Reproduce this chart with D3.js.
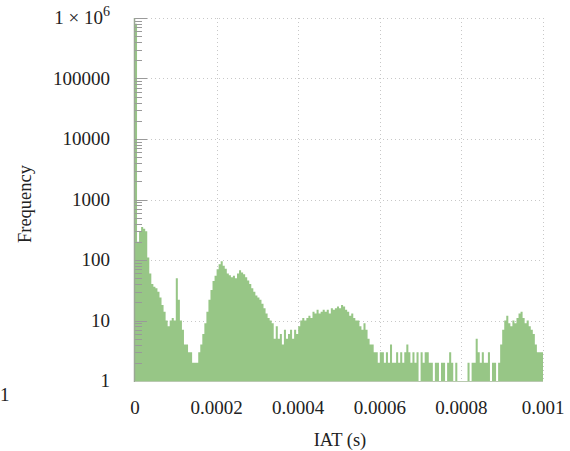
<!DOCTYPE html>
<html><head><meta charset="utf-8">
<script src="https://cdn.jsdelivr.net/npm/d3@7"></script>
<style>body{margin:0;background:#fff}text{font-family:"Liberation Serif","DejaVu Serif",serif;fill:#222}</style>
</head><body><svg id="c" width="570" height="451"></svg>
<script>
// Histogram of inter-arrival times, bins of 5 microseconds from 0 to 0.001 s
const binWidth = 0.000005;
const frequencies = [
800000,200,290,350,330,300,110,60,40,36,
34,30,24,18,14,10,8,10,11,10,
50,22,10,7,4,4,3,3,2,2,
2,3,4,6,9,14,22,32,45,55,
70,85,95,80,72,60,56,52,55,50,
60,68,62,58,52,46,40,34,30,26,
24,22,19,16,13,11,10,9,5,8,
5,6,4,7,5,6,7,5,7,6,
8,10,11,10,11,12,11,14,13,15,
13,14,15,14,15,13,16,15,16,17,
16,18,17,15,14,12,13,11,10,10,
8,7,9,7,5,4,4,3,3,2,
3,3,2,3,2,4,2,2,3,2,
3,2,3,4,3,2,3,2,3,1,
3,2,3,3,2,2,1,2,2,1,
2,2,1,2,3,2,1,2,1,1,
1,1,1,2,1,2,2,5,3,2,
3,2,2,3,1,2,2,1,2,4,
7,10,12,9,8,10,9,11,13,14,
11,9,10,8,7,6,4,3,3,3
];
const xTicks = [0, 0.0002, 0.0004, 0.0006, 0.0008, 0.001];
const xTickLabels = ["0", "0.0002", "0.0004", "0.0006", "0.0008", "0.001"];
const yTicks = [1, 10, 100, 1000, 10000, 100000, 1000000];
const yTickLabels = ["1", "10", "100", "1000", "10000", "100000", "1e6"];

const svg = d3.select("#c");
const L = 135, R = 543, T = 18, B = 381;
const x = d3.scaleLinear().domain([0, 0.001]).range([L, R]);
const y = d3.scaleLog().domain([1, 1e6]).range([B, T]);

// grid
const grid = svg.append("g").attr("stroke", "#c8c8c8").attr("stroke-width", 1).attr("stroke-dasharray", "1,3");
grid.selectAll("line.v").data(xTicks.slice(1)).join("line")
  .attr("x1", d => Math.round(x(d)) + 0.5).attr("x2", d => Math.round(x(d)) + 0.5)
  .attr("y1", T).attr("y2", B);
grid.selectAll("line.h").data(yTicks.slice(1)).join("line")
  .attr("x1", L).attr("x2", R)
  .attr("y1", d => Math.round(y(d)) + 0.5).attr("y2", d => Math.round(y(d)) + 0.5);

// bars as one stepped area (no seams between adjacent bins)
const pts = frequencies.map((v, i) => ({x0: i * binWidth, v: Math.max(1, v)}));
pts.push({x0: frequencies.length * binWidth, v: Math.max(1, frequencies[frequencies.length - 1])});
const area = d3.area().curve(d3.curveStepAfter)
  .x(d => x(d.x0)).y0(B).y1(d => y(d.v));
svg.append("path").datum(pts).attr("d", area).attr("fill", "#97c686");

// y axis minor/major ticks (inside)
const minor = [];
for (let e = 0; e < 6; e++) for (let m = 2; m <= 9; m++) minor.push(m * Math.pow(10, e));
const tk = svg.append("g").attr("stroke", "#9a9a9a").attr("stroke-width", 1);
tk.selectAll("line.mi").data(minor).join("line")
  .attr("x1", L).attr("x2", L + 7)
  .attr("y1", d => Math.round(y(d)) + 0.5).attr("y2", d => Math.round(y(d)) + 0.5);
tk.selectAll("line.ma").data(yTicks).join("line")
  .attr("x1", L).attr("x2", L + 12)
  .attr("y1", d => Math.round(y(d)) + 0.5).attr("y2", d => Math.round(y(d)) + 0.5);
// axis lines
svg.append("line").attr("x1", L - 0.5).attr("x2", L - 0.5).attr("y1", T).attr("y2", B + 1).attr("stroke", "#9aa894").attr("stroke-width", 1.5);
svg.append("line").attr("x1", L).attr("x2", R).attr("y1", B + 0.5).attr("y2", B + 0.5).attr("stroke", "#b9c9b0").attr("stroke-width", 1);

// y tick labels
const yl = svg.append("g").attr("font-size", 19).attr("text-anchor", "end");
yTicks.forEach((d, i) => {
  const t = yl.append("text").attr("x", 110).attr("y", y(d) + 6);
  if (yTickLabels[i] === "1e6") {
    t.text("1 \u00d7 10");
    t.append("tspan").attr("font-size", 14).attr("dy", -8).text("6");
  } else t.text(yTickLabels[i]);
});

// x tick labels
svg.append("g").attr("font-size", 19).attr("text-anchor", "middle")
  .selectAll("text").data(xTicks).join("text")
  .attr("x", d => x(d)).attr("y", 414).text((d, i) => xTickLabels[i]);

// axis titles
svg.append("text").attr("x", 340).attr("y", 446).attr("font-size", 18.5).attr("text-anchor", "middle").text("IAT (s)");
svg.append("text").attr("transform", "translate(31,204) rotate(-90)").attr("font-size", 18.5).attr("text-anchor", "middle").text("Frequency");

// stray label at the far left
svg.append("text").attr("x", 0).attr("y", 401).attr("font-size", 19).attr("text-anchor", "start").text("1");
</script></body></html>
